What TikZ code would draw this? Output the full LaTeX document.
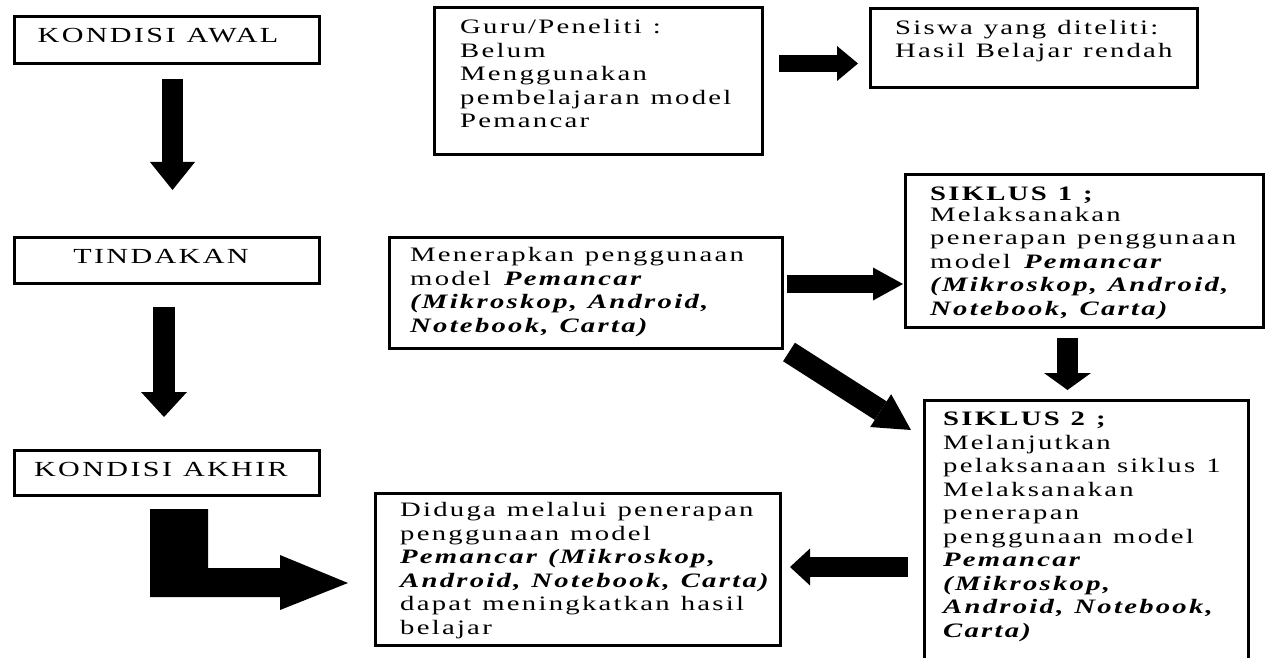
\documentclass[tikz,border=0pt]{standalone}
\usepackage{fontspec}
\setmainfont{Liberation Serif}[FakeStretch=1.4, LetterSpace=11]
\usetikzlibrary{arrows.meta}
\newcommand\bodyfont{\fontsize{20.5}{23.5}\selectfont\spaceskip=11pt\relax}
\newcommand\labelfont{\fontsize{21.5}{26}\selectfont\spaceskip=11pt\relax}
\newcommand\bi[1]{\textbf{\textit{#1}}}
\tikzset{
  box/.style={draw, line width=3pt, inner sep=0pt, anchor=north west},
  txt/.style={anchor=base west, inner sep=0pt, align=left, font=\bodyfont},
  lbl/.style={anchor=base, inner sep=0pt, font=\labelfont},
  blockarrow/.style={line width=#1, draw=black}
}
\begin{document}
\begin{tikzpicture}[x=1pt,y=-1pt]
\useasboundingbox (0,0) rectangle (1270,658);
% boxes
\node[box, minimum width=305pt, minimum height=47pt] (awal) at (13,15) {};
\node[box, minimum width=305pt, minimum height=46pt] (tindakan) at (13,236) {};
\node[box, minimum width=305pt, minimum height=45pt] (akhir) at (13,449) {};
\node[box, minimum width=328pt, minimum height=147pt] (guru) at (433,6) {};
\node[box, minimum width=327pt, minimum height=79pt] (siswa) at (869,7) {};
\node[box, minimum width=393pt, minimum height=111pt] (terap) at (388,236) {};
\node[box, minimum width=358pt, minimum height=153pt] (sik1) at (904,173) {};
\node[box, minimum width=324pt, minimum height=280pt] (sik2) at (923,399) {};
\node[box, minimum width=405pt, minimum height=152pt] (duga) at (374,492) {};
% labels (multi-line texts are placed by the baseline of their last line)
\node[lbl] (tawal) at (158,43) {KONDISI AWAL};
\node[lbl] (ttind) at (161,263) {TINDAKAN};
\node[lbl] (takhir) at (161,476) {KONDISI AKHIR};
\node[txt] (tguru) at (460,128) {Guru/Peneliti :\\ Belum\\ Menggunakan\\ pembelajaran model\\ Pemancar};
\node[txt] (tsiswa) at (895,58) {Siswa yang diteliti:\\ Hasil Belajar rendah};
\node[txt] (tterap) at (410,332) {Menerapkan penggunaan\\ model \bi{Pemancar}\\ \bi{(Mikroskop, Android,}\\ \bi{Notebook, Carta)}};
\node[txt] (tsik1) at (930,315) {\textbf{SIKLUS 1 ;}\\[-3pt] Melaksanakan\\ penerapan penggunaan\\ model \bi{Pemancar}\\ \bi{(Mikroskop, Android,}\\ \bi{Notebook, Carta)}};
\node[txt] (tsik2) at (943,637) {\textbf{SIKLUS 2 ;}\\ Melanjutkan\\ pelaksanaan siklus 1\\ Melaksanakan\\ penerapan\\ penggunaan model\\ \bi{Pemancar}\\ \bi{(Mikroskop,}\\ \bi{Android, Notebook,}\\ \bi{Carta)}};
\node[txt] (tduga) at (400,634) {Diduga melalui penerapan\\ penggunaan model\\ \bi{Pemancar (Mikroskop,}\\ \bi{Android, Notebook, Carta)}\\ dapat meningkatkan hasil\\ belajar};
% arrow coordinates
\coordinate (a1s) at (172.5,79);  \coordinate (a1e) at (172.5,190);
\coordinate (a2s) at (164,307);   \coordinate (a2e) at (164,417);
\coordinate (a3s) at (779,63.5);  \coordinate (a3e) at (858,63.5);
\coordinate (a4s) at (787,284);   \coordinate (a4e) at (903,284);
\coordinate (a5s) at (1067.5,338);\coordinate (a5e) at (1067.5,390);
\coordinate (a6s) at (789,352);   \coordinate (a6e) at (911,430);
\coordinate (a7s) at (908,567);   \coordinate (a7e) at (790,567);
% arrows
\draw[blockarrow=21pt, -{Triangle[length=28pt,width=45pt,line width=0pt]}] (a1s) -- (a1e);
\draw[blockarrow=22pt, -{Triangle[length=25pt,width=46pt,line width=0pt]}] (a2s) -- (a2e);
\draw[blockarrow=17pt, -{Triangle[length=21pt,width=35pt,line width=0pt]}] (a3s) -- (a3e);
\draw[blockarrow=18pt, -{Triangle[length=30pt,width=33pt,line width=0pt]}] (a4s) -- (a4e);
\draw[blockarrow=21pt, -{Triangle[length=17pt,width=47pt,line width=0pt]}] (a5s) -- (a5e);
\draw[blockarrow=22pt, -{Triangle[length=36pt,width=39pt,line width=0pt]}] (a6s) -- (a6e);
\draw[blockarrow=20pt, -{Triangle[length=20pt,width=37pt,line width=0pt]}] (a7s) -- (a7e);
% L-shaped arrow from KONDISI AKHIR towards the conclusion box
\fill (150,509) -- (208,509) -- (208,568) -- (280,568) -- (280,555) -- (348,583)
      -- (280,610) -- (280,597) -- (150,597) -- cycle;
\end{tikzpicture}
\end{document}
